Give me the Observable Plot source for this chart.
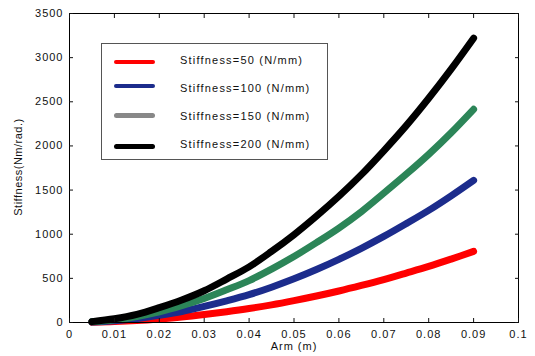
<!DOCTYPE html>
<html>
<head>
<meta charset="utf-8">
<script src="https://cdn.jsdelivr.net/npm/d3@7"></script>
<script src="https://cdn.jsdelivr.net/npm/@observablehq/plot@0.6"></script>
<style>
  body { margin: 0; background: #fff; }
  #wrap { position: relative; width: 535px; height: 356px; font-family: "Liberation Sans", Arial, sans-serif; }
  #legend { position: absolute; left: 101px; top: 43px; width: 227px; height: 117px; border: 1px solid #555; background: #fff; box-sizing: border-box; }
  .sw { position: absolute; left: 12px; width: 41px; border-radius: 3px; }
  .lab { position: absolute; left: 78px; font-size: 11px; letter-spacing: 1.2px; color: #111; white-space: nowrap; line-height: 1; transform: translateY(-50%); }
  #ylab { position: absolute; left: 18px; top: 167px; font-size: 11px; letter-spacing: 0.5px; color: #111; white-space: nowrap; line-height: 1; transform: translate(-50%, -50%) rotate(-90deg); }
</style>
</head>
<body>
<div id="wrap"></div>
<script>
const arm = [0.005, 0.01, 0.015, 0.02, 0.025, 0.03, 0.035, 0.04, 0.045, 0.05, 0.055, 0.06, 0.065, 0.07, 0.075, 0.08, 0.085, 0.09];
const s50  = [3, 10, 22, 40, 62, 90, 122, 158, 200, 248, 300, 357, 420, 487, 560, 635, 718, 805];
const s100 = [5, 20, 45, 82, 125, 182, 245, 315, 400, 495, 600, 715, 840, 975, 1120, 1270, 1435, 1610];
const s150 = [8, 30, 68, 120, 190, 272, 370, 475, 605, 748, 905, 1070, 1255, 1465, 1680, 1905, 2150, 2415];
const s200 = [10, 42, 92, 168, 255, 360, 492, 630, 805, 995, 1205, 1430, 1675, 1945, 2230, 2540, 2870, 3220];

const seriesNames = ["Stiffness=50 (N/mm)", "Stiffness=100 (N/mm)", "Stiffness=150 (N/mm)", "Stiffness=200 (N/mm)"];
const seriesValues = [s50, s100, s150, s200];
const lineColors = ["#ff0000", "#1c2c8c", "#2c8558", "#000000"];
const legendColors = ["#ff0000", "#1c2c8c", "#888888", "#000000"];

const xTicks = [0, 0.01, 0.02, 0.03, 0.04, 0.05, 0.06, 0.07, 0.08, 0.09, 0.1];
const xTickLabels = ["0", "0.01", "0.02", "0.03", "0.04", "0.05", "0.06", "0.07", "0.08", "0.09", "0.1"];
const yTicks = [0, 500, 1000, 1500, 2000, 2500, 3000, 3500];
const yTickLabels = ["0", "500", "1000", "1500", "2000", "2500", "3000", "3500"];
const xLabel = "Arm (m)";
const yLabel = "Stiffness(Nm/rad.)";

const rows = [];
seriesValues.forEach((vals, i) => vals.forEach((v, j) => rows.push({series: seriesNames[i], x: arm[j], y: v})));

const lineMarks = seriesNames.map((name, i) =>
  Plot.line(rows.filter(d => d.series === name), {x: "x", y: "y", stroke: lineColors[i], strokeWidth: 7, strokeLinecap: "round", strokeLinejoin: "round", curve: "catmull-rom"})
);

const chart = Plot.plot({
  width: 535,
  height: 356,
  marginLeft: 69,
  marginRight: 17,
  marginTop: 13,
  marginBottom: 34,
  style: {fontFamily: "'Liberation Sans', Arial, sans-serif", fontSize: "11px", letterSpacing: "1px", color: "#111", background: "#fff"},
  x: {domain: [0, 0.1]},
  y: {domain: [0, 3500]},
  marks: [
    ...lineMarks,
    Plot.frame({stroke: "#000", strokeWidth: 1}),
    Plot.axisX(xTicks, {anchor: "bottom", tickSize: -4, tickPadding: 12, tickFormat: (d, i) => xTickLabels[i], label: null}),
    Plot.axisX(xTicks, {anchor: "top", tickSize: -4, tickFormat: () => "", label: null}),
    Plot.axisY(yTicks, {anchor: "left", tickSize: -4, tickPadding: 10, tickFormat: (d, i) => yTickLabels[i], label: null}),
    Plot.axisY(yTicks, {anchor: "right", tickSize: -4, tickFormat: () => "", label: null}),
    Plot.text([xLabel], {frameAnchor: "bottom", dy: 27, text: d => d, fontSize: 11})
  ]
});

const wrap = document.getElementById("wrap");
wrap.appendChild(chart);

const yl = document.createElement("div");
yl.id = "ylab";
yl.textContent = yLabel;
wrap.appendChild(yl);

const legend = document.createElement("div");
legend.id = "legend";
const swY = [18, 42, 71, 102];
const txY = [16, 44, 72, 100];
const swH = [4, 4, 5, 5];
seriesNames.forEach((name, i) => {
  const sw = document.createElement("div");
  sw.className = "sw";
  sw.style.top = (swY[i] - swH[i] / 2) + "px";
  sw.style.height = swH[i] + "px";
  sw.style.background = legendColors[i];
  legend.appendChild(sw);
  const lab = document.createElement("div");
  lab.className = "lab";
  lab.style.top = txY[i] + "px";
  lab.textContent = name;
  legend.appendChild(lab);
});
wrap.appendChild(legend);
</script>
</body>
</html>
